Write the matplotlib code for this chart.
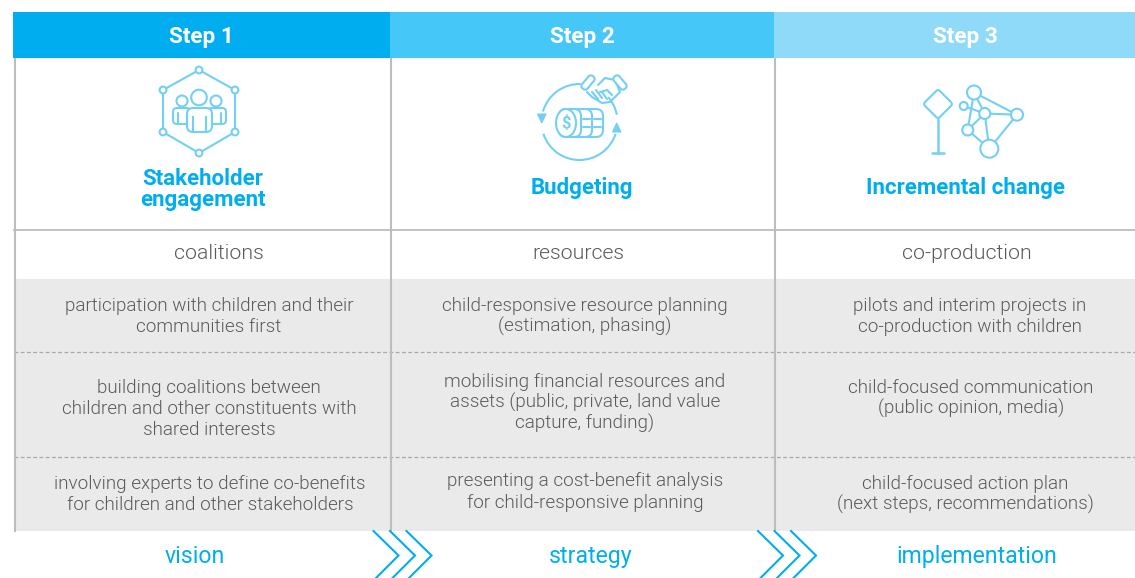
import numpy as np
import matplotlib
matplotlib.use("Agg")
import matplotlib.pyplot as plt
from matplotlib.patches import Rectangle, Circle, Arc, Polygon, FancyBboxPatch, Ellipse
from matplotlib import transforms

plt.rcParams['font.family'] = ['Roboto', 'DejaVu Sans']

steps = ["Step 1", "Step 2", "Step 3"]
titles = [["Stakeholder", "engagement"], ["Budgeting"], ["Incremental change"]]
subheads = ["coalitions", "resources", "co-production"]
row1 = [["participation with children and their", "communities first"],
        ["child-responsive resource planning", "(estimation, phasing)"],
        ["pilots and interim projects in", "co-production with children"]]
row2 = [["building coalitions between", "children and other constituents with", "shared interests"],
        ["mobilising financial resources and", "assets (public, private, land value", "capture, funding)"],
        ["child-focused communication", "(public opinion, media)"]]
row3 = [["involving experts to define co-benefits", "for children and other stakeholders"],
        ["presenting a cost-benefit analysis", "for child-responsive planning"],
        ["child-focused action plan", "(next steps, recommendations)"]]
outcomes = ["vision", "strategy", "implementation"]

header_colors = ["#00AEEF", "#45C8F8", "#8FD9F9"]
BLUE = "#00AEEF"
ICON = "#74CFF5"
GREY = "#EAEAEA"
TXT = "#5A5A5A"
LINE = "#BDBDBD"

col_edges = [13, 390, 774, 1135]
header_cx = [201, 582, 965]
title_cx = [203, 582, 965]
title_base = [[185, 206], [194], [194]]
sub_cx = [219, 578, 967]
row1_cx = [209, 585, 970]
row2_cx = [209, 585, 971]
row3_cx = [210, 585, 965]
row1_base = [[311, 332], [311, 332], [311, 332]]
row2_base = [[393, 414, 435], [387, 408, 429], [393, 414]]
row3_base = [[489, 510], [486, 508], [489, 510]]
out_cx = [195, 591, 977]

fig = plt.figure(figsize=(11.35, 5.78), dpi=100)
ax = fig.add_axes([0, 0, 1, 1])
ax.set_xlim(0, 1135)
ax.set_ylim(578, 0)
ax.axis("off")

# Bands and rules
ax.add_patch(Rectangle((14, 279), 1121, 252, fc=GREY, ec="none", zorder=1))
for y in (352, 457):
    ax.plot([14, 1135], [y, y], color="#A8A8A8", lw=0.9, ls=(0, (3, 2)), zorder=2)
ax.plot([14, 1135], [229.5, 229.5], color=LINE, lw=1.3, zorder=2)
for x in (14.5, 390.5, 774.5):
    ax.plot([x, x], [58, 531], color=LINE, lw=1.5, zorder=2)

def lines(cx, bases, strs):
    for y, s in zip(bases, strs):
        ax.text(cx, y, s, color=TXT, fontsize=13.6, fontweight=300,
                ha="center", va="baseline", zorder=4)

for i, label in enumerate(steps):
    ax.add_patch(Rectangle((col_edges[i], 12), col_edges[i + 1] - col_edges[i], 46,
                           fc=header_colors[i], ec="none", zorder=3))
    ax.text(header_cx[i], 43, label, color="white", fontsize=16.2, fontweight="bold",
            ha="center", va="baseline", zorder=4)
    for y, s in zip(title_base[i], titles[i]):
        ax.text(title_cx[i], y, s, color=BLUE, fontsize=16, fontweight="bold",
                ha="center", va="baseline")
    ax.text(sub_cx[i], 259, subheads[i], color=TXT, fontsize=15.3, fontweight=300,
            ha="center", va="baseline")
    lines(row1_cx[i], row1_base[i], row1[i])
    lines(row2_cx[i], row2_base[i], row2[i])
    lines(row3_cx[i], row3_base[i], row3[i])
    ax.text(out_cx[i], 563, outcomes[i], color=BLUE, fontsize=16.6, fontweight=400,
            ha="center", va="baseline")

# Chevrons
for x0 in (373.5, 390, 406.5, 758, 774.5, 791):
    ax.plot([x0, x0 + 25, x0 + 2], [531, 555.5, 578.5], color=BLUE, lw=1.5,
            solid_joinstyle="miter", zorder=5, clip_on=True)

lw = 1.5
def line(xs, ys, w=lw, z=6):
    ax.plot(xs, ys, color=ICON, lw=w, solid_capstyle="round", solid_joinstyle="round", zorder=z)
def circ(x, y, r, w=lw, fc="white"):
    ax.add_patch(Circle((x, y), r, fc=fc, ec=ICON, lw=w, zorder=7))

# Icon 1: stakeholders
hx = [199, 235, 235, 199, 163, 163, 199]
hy = [70, 90, 132, 153, 132, 90, 70]
line(hx, hy)
for x, y in zip(hx[:-1], hy[:-1]):
    circ(x, y, 3.4)
for cx in (182, 216):
    circ(cx, 101, 5.5)
for x0, x1 in ((173, 190), (208, 226)):
    ax.add_patch(FancyBboxPatch((x0, 108), x1 - x0, 16, boxstyle="round,pad=0,rounding_size=4",
                                fc="white", ec=ICON, lw=lw, zorder=7))
line([178, 178], [113, 124], z=7.5)
line([221, 221], [113, 124], z=7.5)
ax.add_patch(FancyBboxPatch((187, 108), 25, 24, boxstyle="round,pad=0,rounding_size=6",
                            fc="white", ec=ICON, lw=lw, zorder=8))
ax.add_patch(Circle((199, 97.5), 7.8, fc="white", ec=ICON, lw=lw, zorder=8.5))
for x in (193, 206):
    ax.plot([x, x], [117, 132], color=ICON, lw=lw, zorder=9)

# Icon 2: budgeting (y axis is inverted, so Arc angles run clockwise on screen)
c2 = (579.5, 122)
ax.add_patch(Arc(c2, 76, 76, theta1=196, theta2=272, color=ICON, lw=lw, zorder=6))
ax.add_patch(Arc(c2, 76, 76, theta1=319, theta2=349, color=ICON, lw=lw, zorder=6))
ax.add_patch(Arc(c2, 76, 76, theta1=18, theta2=162, color=ICON, lw=lw, zorder=6))
ax.add_patch(Polygon([[537.5, 114], [546, 114], [541.7, 123]], fc=ICON, ec=ICON, lw=0.8, zorder=6))
ax.add_patch(Polygon([[616.7, 123], [612.5, 132], [621, 132]], fc=ICON, ec=ICON, lw=0.8, zorder=6))
for x1 in (603, 592, 581):
    ax.add_patch(FancyBboxPatch((x1 - 22, 109), 22, 28, boxstyle="round,pad=0,rounding_size=7",
                                fc="white", ec=ICON, lw=lw, zorder=7))
for x0, x1 in ((583, 590), (594, 601)):
    line([x0, x1], [119, 119], z=7.5)
    line([x0, x1], [127, 127], z=7.5)
ax.add_patch(Ellipse((566, 123), 20, 28, fc="white", ec=ICON, lw=lw, zorder=8))
ax.text(566, 123, "$", color=ICON, fontsize=12, fontweight="bold", ha="center", va="center", zorder=9)
for cx, ang in ((588, -50), (620, 50)):
    tr = transforms.Affine2D().rotate_deg_around(cx, 82.5, ang) + ax.transData
    ax.add_patch(FancyBboxPatch((cx - 8, 79), 16, 7, boxstyle="round,pad=0,rounding_size=3",
                                fc="white", ec=ICON, lw=lw, zorder=8, transform=tr))
line([598, 605, 615, 620, 610, 602, 592, 587], [85, 78, 80, 92, 102, 103, 97, 92], z=7.5)
line([600, 607, 612], [92, 90, 95], z=7.5)
line([592, 598], [92, 99], z=7.5)
line([596, 602], [90, 98], z=7.5)
line([602, 607], [92, 99], z=7.5)

# Icon 3: incremental change
ax.add_patch(FancyBboxPatch((927.5, 93.5), 21, 21, boxstyle="round,pad=0,rounding_size=2.5",
                            fc="white", ec=ICON, lw=lw, zorder=6,
                            transform=transforms.Affine2D().rotate_deg_around(938, 104, 45) + ax.transData))
line([938, 938], [119, 153], w=1.8)
line([932, 944], [153, 153], w=1.8)
nodes = {"A": (974, 92.5, 7), "B": (963.7, 106, 4), "C": (984.7, 113.5, 5.5),
         "D": (1017, 114.7, 6), "E": (967.7, 130, 5.5), "F": (989.3, 148.7, 9)}
edges = ["AC", "AD", "AE", "BC", "CD", "CE", "CF", "EF", "DF"]
for e in edges:
    a, b = nodes[e[0]], nodes[e[1]]
    line([a[0], b[0]], [a[1], b[1]])
for x, y, r in nodes.values():
    circ(x, y, r)

fig.savefig("out.png", dpi=100)
